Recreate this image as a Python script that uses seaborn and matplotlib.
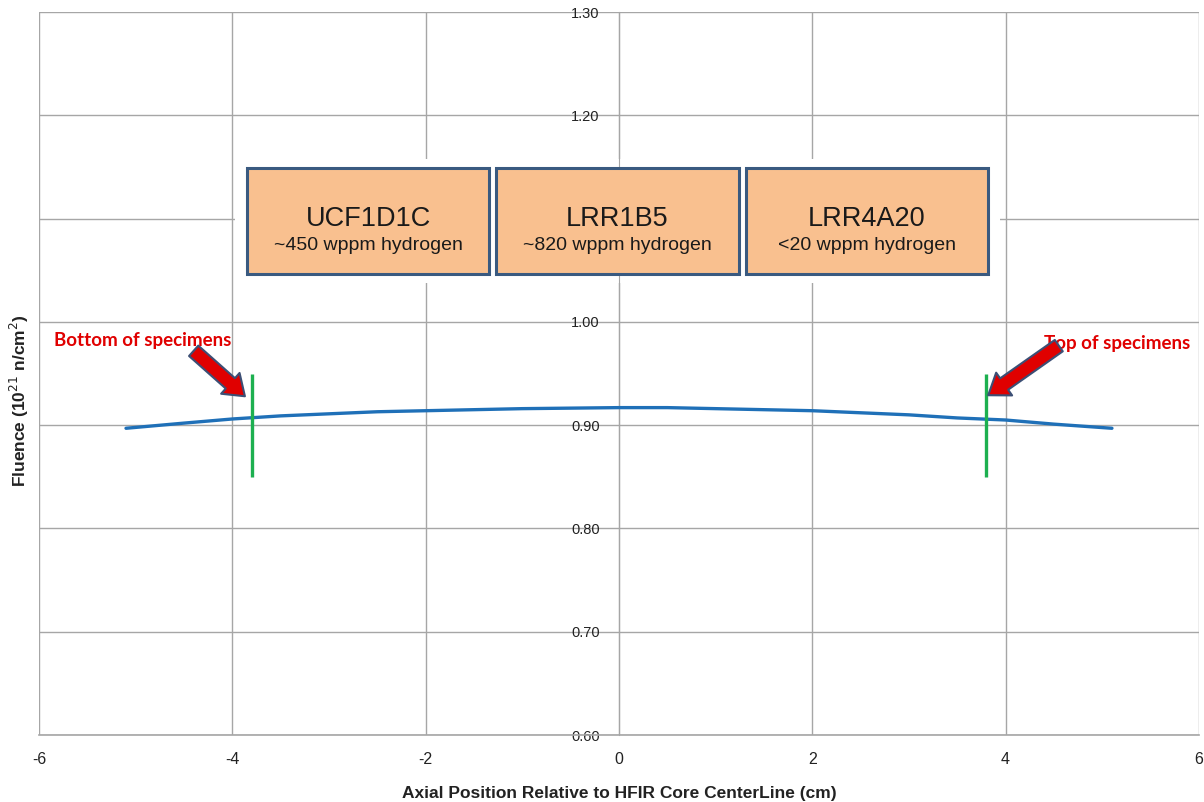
import matplotlib
matplotlib.use("Agg")
import matplotlib.pyplot as plt
import matplotlib.patches as mpatches
import pandas as pd
import seaborn as sns

# fluence profile along the core axis
axial_pos = [-5.1, -4.5, -4.0, -3.5, -3.0, -2.5, -2.0, -1.5, -1.0, -0.5, 0.0,
             0.5, 1.0, 1.5, 2.0, 2.5, 3.0, 3.5, 4.0, 4.5, 5.1]
fluence = [0.897, 0.902, 0.906, 0.909, 0.911, 0.913, 0.914, 0.915, 0.916, 0.9165, 0.917,
           0.917, 0.916, 0.915, 0.914, 0.912, 0.910, 0.907, 0.905, 0.901, 0.897]

# specimen ends
specimen_ends = [-3.8, 3.8]
marker_low, marker_high = 0.85, 0.95

# specimen boxes
specimens = ["UCF1D1C", "LRR1B5", "LRR4A20"]
hydrogen = ["~450 wppm hydrogen", "~820 wppm hydrogen", "<20 wppm hydrogen"]

# y tick labels (1.10 sits behind the specimen boxes)
y_ticks = [0.6, 0.7, 0.8, 0.9, 1.0, 1.1, 1.2, 1.3]
y_labels = ["0.60", "0.70", "0.80", "0.90", "1.00", "", "1.20", "1.30"]

sns.set_style("white")
plt.rcParams["font.family"] = ["Liberation Sans", "DejaVu Sans"]
plt.rcParams["axes.unicode_minus"] = False

fig, ax = plt.subplots(figsize=(12.04, 8.02), dpi=100)
fig.subplots_adjust(left=0.0324, right=0.9958, top=0.985, bottom=0.0835)

df = pd.DataFrame({"x": axial_pos, "y": fluence})
sns.lineplot(data=df, x="x", y="y", ax=ax, color="#1f70b8", linewidth=2.4, zorder=3)
ax.vlines(specimen_ends, marker_low, marker_high, color="#1db050", linewidth=2.4, zorder=4)

ax.set_xlim(-6, 6)
ax.set_ylim(0.60, 1.30)
ax.set_xticks(range(-6, 7, 2))
ax.set_yticks(y_ticks)
ax.set_yticklabels(y_labels)
ax.grid(True, color="#a6a6a6", linewidth=1.0)
ax.set_axisbelow(True)

for s in ["top", "right"]:
    ax.spines[s].set_visible(False)
ax.spines["left"].set_position(("data", 0))
ax.spines["left"].set_color("#a6a6a6")
ax.spines["bottom"].set_color("#a6a6a6")
ax.spines["bottom"].set_linewidth(1.2)
ax.tick_params(axis="y", length=0, pad=14, labelsize=10.5, labelcolor="#222222")
ax.tick_params(axis="x", length=0, pad=12, labelsize=11.5, labelcolor="#222222")
for lbl in ax.get_yticklabels() + ax.get_xticklabels():
    lbl.set_fontfamily(["Liberation Sans Narrow", "Liberation Sans"])

ax.set_xlabel("Axial Position Relative to HFIR Core CenterLine (cm)",
              fontsize=12.5, fontweight="bold", labelpad=14, color="#222222")
ax.set_ylabel("")
fig.text(0.016, 0.5, r"Fluence (10$^{21}$ n/cm$^{2}$)", rotation=90, ha="center",
         va="center", fontsize=12.5, fontweight="bold", color="#222222")

# white backing behind the boxes
ax.add_patch(mpatches.Rectangle((-3.97, 1.0375), 7.91, 0.12, facecolor="white",
                                edgecolor="none", zorder=2))
box_left = [-3.85, -1.27, 1.31]
for left, name, h in zip(box_left, specimens, hydrogen):
    ax.add_patch(mpatches.Rectangle((left, 1.046), 2.51, 0.103, facecolor="#f9c08f",
                                    edgecolor="#3a5a80", linewidth=2.2, zorder=3))
    cx = left + 2.51 / 2
    ax.text(cx, 1.1, name, ha="center", va="center", fontsize=19.5, color="#1a1a1a", zorder=4)
    ax.text(cx, 1.074, h, ha="center", va="center", fontsize=14, color="#1a1a1a", zorder=4)

# arrows and labels
arrow_kw = dict(arrowstyle="simple,head_width=1.0,head_length=0.7,tail_width=0.5",
                fc="#e00000", ec="#3c4f75", lw=1.5, mutation_scale=20, shrinkA=0, shrinkB=0)
ax.annotate("", xy=(-3.87, 0.928), xytext=(-4.4, 0.972), arrowprops=arrow_kw, zorder=5)
ax.annotate("", xy=(3.82, 0.929), xytext=(4.55, 0.977), arrowprops=arrow_kw, zorder=5)
ax.text(-4.93, 0.982, "Bottom of specimens", ha="center", va="center", fontsize=13.5,
        fontweight="bold", color="#e00000", family=["Lato", "DejaVu Sans"])
ax.text(5.15, 0.979, "Top of specimens", ha="center", va="center", fontsize=13.5,
        fontweight="bold", color="#e00000", family=["Lato", "DejaVu Sans"])

fig.savefig("out.png", dpi=100)
